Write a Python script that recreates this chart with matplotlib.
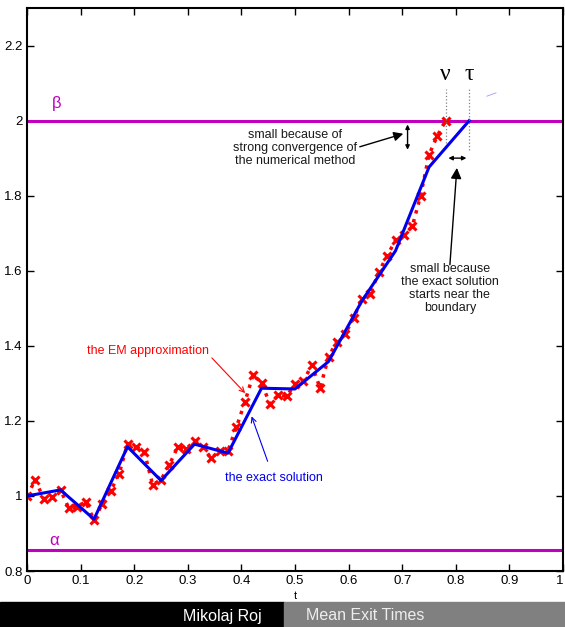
import numpy as np
import matplotlib.pyplot as plt

plt.rcParams['font.family'] = ['Liberation Sans', 'DejaVu Sans']

# Euler-Maruyama path, step 1/64
em_vals = [1.000, 1.043, 0.991, 0.996, 1.016, 0.967, 0.970, 0.985, 0.936, 0.979,
           1.014, 1.059, 1.139, 1.131, 1.118, 1.030, 1.043, 1.083, 1.131, 1.125,
           1.147, 1.131, 1.100, 1.121, 1.121, 1.183, 1.249, 1.323, 1.302, 1.245,
           1.269, 1.265, 1.299, 1.305, 1.349, 1.287, 1.371, 1.411, 1.432, 1.474,
           1.525, 1.539, 1.596, 1.640, 1.681, 1.696, 1.718, 1.800, 1.909, 1.960,
           2.000]
em_t = np.arange(len(em_vals)) / 64

# exact solution, step 1/16, cut at the boundary (tau)
exact_t = [0, 0.0625, 0.125, 0.1875, 0.25, 0.3125, 0.375, 0.4375, 0.5,
           0.5625, 0.625, 0.6875, 0.75, 0.825]
exact_vals = [1.000, 1.016, 0.938, 1.131, 1.041, 1.138, 1.114, 1.287, 1.285,
              1.358, 1.520, 1.653, 1.876, 2.000]
stray_t = [0.858, 0.875]
stray_vals = [2.065, 2.074]

alpha, beta = 0.855, 2.0
nu, tau = 0.781, 0.825

xticks = np.arange(0, 1.01, 0.1)
xlabels = ['0', '0.1', '0.2', '0.3', '0.4', '0.5', '0.6', '0.7', '0.8', '0.9', '1']
yticks = [0.8, 1.0, 1.2, 1.4, 1.6, 1.8, 2.0, 2.2]
ylabels = ['0.8', '1', '1.2', '1.4', '1.6', '1.8', '2', '2.2']

mag = '#bf00bf'

fig = plt.figure(figsize=(5.65, 6.27), dpi=100)
ax = fig.add_axes([27/565, 1-571/627, 536/565, 563/627])

ax.axhline(beta, color=mag, lw=2.2)
ax.axhline(alpha, color=mag, lw=2.2)
ax.plot(em_t, em_vals, color='red', ls=':', lw=2.5, marker='x', ms=6, mew=2.2)
ax.plot(exact_t, exact_vals, color='#0000ee', lw=2.2)
ax.plot(stray_t, stray_vals, color='#9999ff', lw=0.6)

ax.plot([nu, nu], [1.941, 2.083], color='gray', ls=':', lw=0.9)
ax.plot([tau, tau], [1.923, 2.083], color='gray', ls=':', lw=0.9)
ax.text(nu, 2.123, 'ν', family='Liberation Serif', fontsize=17, ha='center', va='center')
ax.text(tau, 2.123, 'τ', family='Liberation Serif', fontsize=17, ha='center', va='center')

ax.text(0.056, 2.045, 'β', color=mag, fontsize=12, ha='center', va='center')
ax.text(0.05, 0.882, 'α', color=mag, fontsize=12, ha='center', va='center')

# double arrows
ax.annotate('', xy=(0.71, 1.997), xytext=(0.71, 1.915),
            arrowprops=dict(arrowstyle='<|-|>', color='black', lw=1, mutation_scale=6))
ax.annotate('', xy=(nu, 1.90), xytext=(tau, 1.90),
            arrowprops=dict(arrowstyle='<|-|>', color='black', lw=1, mutation_scale=6))

ax.annotate('small because of\nstrong convergence of\nthe numerical method',
            xy=(0.702, 1.965), xytext=(0.5, 1.928), ha='center', va='center',
            fontsize=9, color='#1a1a1a', linespacing=1.1,
            arrowprops=dict(arrowstyle='-|>', color='black', lw=1,
                            mutation_scale=14, shrinkA=0, shrinkB=0,
                            relpos=(1.0, 0.5)))
ax.annotate('', xy=(0.802, 1.874), xytext=(0.789, 1.616),
            arrowprops=dict(arrowstyle='-|>', color='black', lw=1,
                            mutation_scale=16, shrinkA=0, shrinkB=0))
ax.text(0.789, 1.553, 'small because\nthe exact solution\nstarts near the\nboundary',
        ha='center', va='center', fontsize=9, color='#1a1a1a', linespacing=1.1)

ax.annotate('the EM approximation', xy=(0.407, 1.274), xytext=(0.226, 1.385),
            ha='center', va='center', fontsize=9, color='red',
            arrowprops=dict(arrowstyle='->', color='red', lw=0.8,
                            shrinkA=0, shrinkB=0, relpos=(1.0, 0.2)))
ax.annotate('the exact solution', xy=(0.419, 1.212), xytext=(0.46, 1.048),
            ha='center', va='center', fontsize=9, color='#0000ee',
            arrowprops=dict(arrowstyle='->', color='#0000ee', lw=0.8,
                            shrinkA=6, shrinkB=0))

ax.set_xlim(0, 1)
ax.set_ylim(0.8, 2.3)
ax.set_xticks(xticks)
ax.set_xticklabels(xlabels)
ax.set_yticks(yticks)
ax.set_yticklabels(ylabels)
ax.tick_params(direction='in', length=5, width=1, top=True, right=True,
               labelsize=9.5, pad=3)
ax.get_xticklabels()[-1].set_horizontalalignment('right')
for s in ax.spines.values():
    s.set_linewidth(1.5)
ax.set_xlabel('t', fontsize=8, labelpad=3)

# footer band
fig.patches.append(plt.Rectangle((0, 0), 284/565, 25/627, transform=fig.transFigure,
                                 color='black', zorder=0))
fig.patches.append(plt.Rectangle((284/565, 0), 281/565, 25/627, transform=fig.transFigure,
                                 color='#808080', zorder=0))
fig.text(262/565, 11/627, 'Mikolaj Roj', color='white', fontsize=11.5,
         ha='right', va='center')
fig.text(306/565, 11/627, 'Mean Exit Times', color='#eeeeee', fontsize=11.5,
         ha='left', va='center')

fig.savefig('out.png', dpi=100)
